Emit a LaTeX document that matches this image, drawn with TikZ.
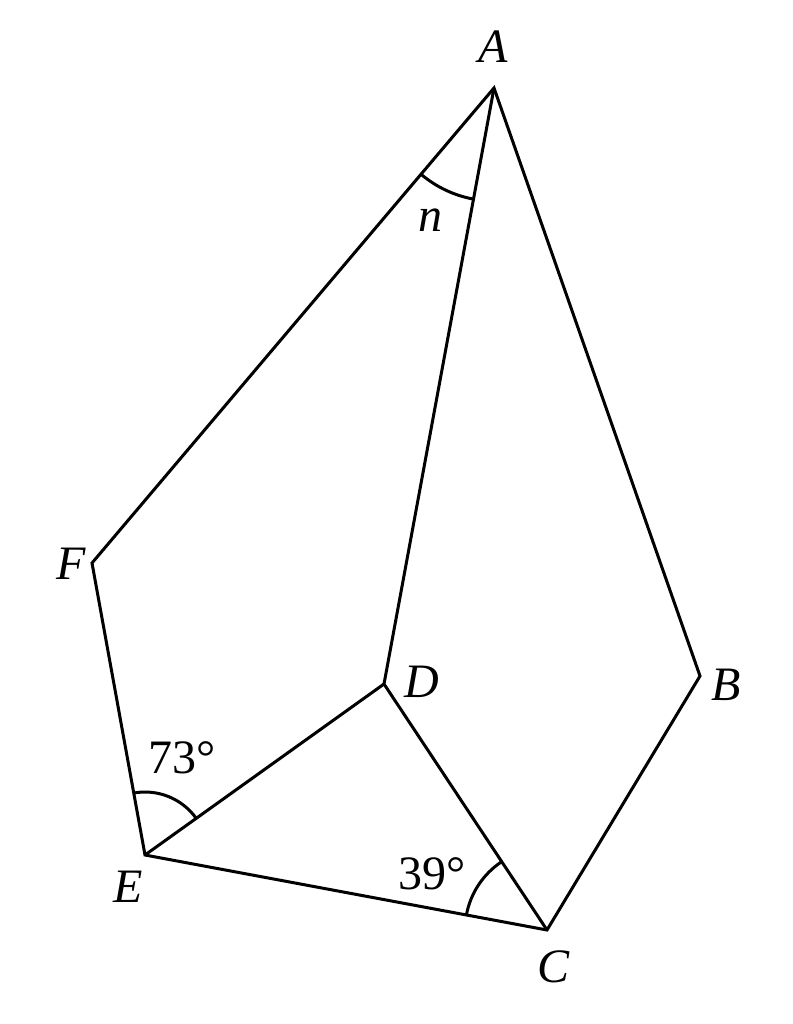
\documentclass[tikz,border=0pt]{standalone}
\usepackage{fontspec}
\setmainfont{Liberation Serif}
\usetikzlibrary{angles}
\begin{document}
\begin{tikzpicture}[x=1pt,y=-1pt,
  edge/.style={line width=3pt,line join=miter},
  arcmark/.style={draw,line width=3pt},
  lbl/.style={font=\fontsize{48}{52}\selectfont\itshape,inner sep=0pt},
  num/.style={font=\fontsize{48}{52}\selectfont,inner sep=0pt}]
\useasboundingbox (0,0) rectangle (792,1024);
\coordinate (A) at (494,88);
\coordinate (B) at (700,676);
\coordinate (C) at (547,930);
\coordinate (D) at (384,684);
\coordinate (E) at (145,855);
\coordinate (F) at (92,563);
\draw[edge] (A) -- (F) -- (E) -- (C) -- (B) -- cycle;
\draw[edge] (A) -- (D) -- (C);
\draw[edge] (E) -- (D);
\pic[arcmark, angle radius=113pt] {angle=F--A--D};
\pic[arcmark, angle radius=63pt] {angle=D--E--F};
\pic[arcmark, angle radius=82pt] {angle=D--C--E};
\node[lbl] (lA) at (493,47) {A};
\node[lbl] (lB) at (726,685) {B};
\node[lbl] (lC) at (553,967) {C};
\node[lbl] (lD) at (422,682) {D};
\node[lbl] (lE) at (128,887) {E};
\node[lbl] (lF) at (71,564) {F};
\node[lbl] (ln) at (430,220) {n};
\node[num] (a73) at (182,758) {73°};
\node[num] (a39) at (432,874) {39°};
\end{tikzpicture}
\end{document}
